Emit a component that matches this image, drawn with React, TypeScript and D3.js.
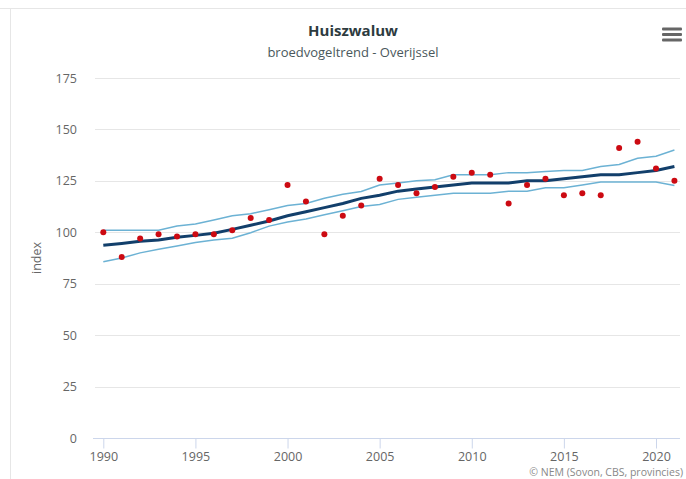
import React, { useEffect, useRef } from 'react';
import * as d3 from 'd3';

const years = d3.range(1990, 2022);
const observed = [100, 88, 97, 99, 98, 99, 99, 101, 107, 106, 123, 115, 99, 108, 113, 126, 123, 119, 122, 127, 129, 128, 114, 123, 126, 118, 119, 118, 141, 144, 131, 125];
const trend = [93.7, 94.6, 95.6, 96.3, 97.6, 98.5, 99.5, 101.4, 103.4, 105.5, 108, 110, 112, 114, 116.5, 118, 120, 121, 122, 123, 124, 124, 124, 125, 125, 126, 127, 128, 128, 129, 130, 132];
const upper = [101, 101, 101, 101, 103, 104, 106, 108, 109, 111, 113, 114, 116.5, 118.5, 119.8, 123, 124, 125, 125.5, 128, 128, 128, 129, 129, 129.5, 130, 130, 132, 133, 136, 137, 140];
const lower = [85.7, 87.5, 90, 91.7, 93.3, 95, 96.3, 97.1, 99.8, 103, 105, 106.5, 108.5, 110.5, 112.5, 113.5, 116, 117, 118, 119, 119, 119, 120, 120, 121.7, 121.7, 123, 124.4, 124.4, 124.4, 124.4, 122.7];
const yTicks = [0, 25, 50, 75, 100, 125, 150, 175];
const xTicks = [1990, 1995, 2000, 2005, 2010, 2015, 2020];

const W = 686;
const H = 479;
const font = '"Open Sans", "DejaVu Sans", sans-serif';

export default function App() {
  const svgRef = useRef<SVGSVGElement>(null);

  useEffect(() => {
    const svg = d3.select(svgRef.current);
    svg.selectAll('*').remove();

    const x = d3.scaleLinear().domain([1990, 2020]).range([103.3, 656]);
    const y = d3.scaleLinear().domain([0, 175]).range([438, 78]);

    // container border
    svg.append('line').attr('x1', 0).attr('x2', W).attr('y1', 8.5).attr('y2', 8.5).attr('stroke', '#e6e6e6');
    svg.append('line').attr('x1', 10.5).attr('x2', 10.5).attr('y1', 8).attr('y2', H).attr('stroke', '#e6e6e6');

    // title
    svg.append('text').attr('x', 353).attr('y', 36).attr('text-anchor', 'middle')
      .attr('font-family', font).attr('font-size', 15).attr('font-weight', 'bold').attr('fill', '#2d3b3f')
      .text('Huiszwaluw');
    svg.append('text').attr('x', 353).attr('y', 57).attr('text-anchor', 'middle')
      .attr('font-family', font).attr('font-size', 13).attr('fill', '#4a585c')
      .text('broedvogeltrend - Overijssel');

    // menu icon
    [29, 34.5, 40].forEach(yy => {
      svg.append('rect').attr('x', 662).attr('y', yy - 1.5).attr('width', 20).attr('height', 3)
        .attr('rx', 1).attr('fill', '#666');
    });

    // grid
    svg.append('g').selectAll('line').data(yTicks.filter(t => t > 0)).join('line')
      .attr('x1', 95).attr('x2', 680)
      .attr('y1', d => Math.round(y(d)) + 0.5).attr('y2', d => Math.round(y(d)) + 0.5)
      .attr('stroke', '#e6e6e6');

    // y labels
    svg.append('g').selectAll('text').data(yTicks).join('text')
      .attr('x', 77).attr('y', d => y(d) + 4.5).attr('text-anchor', 'end')
      .attr('font-family', font).attr('font-size', 12.5).attr('fill', '#666')
      .text(d => d);

    svg.append('text').attr('transform', 'translate(41,258) rotate(-90)').attr('text-anchor', 'middle')
      .attr('font-family', font).attr('font-size', 12.5).attr('fill', '#666').text('index');

    // x axis
    const xAxis = svg.append('g').attr('transform', 'translate(0,438.5)')
      .call(d3.axisBottom(x).tickValues(xTicks).tickFormat(d3.format('d')).tickSize(10).tickPadding(4));
    xAxis.select('.domain').attr('d', 'M93,0H680').attr('stroke', '#ccd6eb');
    xAxis.selectAll('.tick line').attr('stroke', '#ccd6eb');
    xAxis.selectAll('.tick text').attr('font-family', font).attr('font-size', 12.5).attr('fill', '#666');

    const line = (vals: number[]) => d3.line<number>()
      .x((_, i) => x(years[i]))
      .y(d => y(d))(vals);

    svg.append('path').attr('d', line(lower)).attr('fill', 'none').attr('stroke', '#6cb2d4').attr('stroke-width', 1.5);
    svg.append('path').attr('d', line(upper)).attr('fill', 'none').attr('stroke', '#6cb2d4').attr('stroke-width', 1.5);
    svg.append('path').attr('d', line(trend)).attr('fill', 'none').attr('stroke', '#123f6b').attr('stroke-width', 3);

    svg.append('g').selectAll('circle').data(observed).join('circle')
      .attr('cx', (_, i) => x(years[i])).attr('cy', d => y(d)).attr('r', 3)
      .attr('fill', '#cc0a12');

    svg.append('text').attr('x', 683).attr('y', 476).attr('text-anchor', 'end')
      .attr('font-family', font).attr('font-size', 10.5).attr('fill', '#888')
      .text('© NEM (Sovon, CBS, provincies)');
  }, []);

  return (
    <div>
      <svg ref={svgRef} width={W} height={H} style={{ position: 'absolute', left: 0, top: 0, background: '#fff' }} />
    </div>
  );
}
